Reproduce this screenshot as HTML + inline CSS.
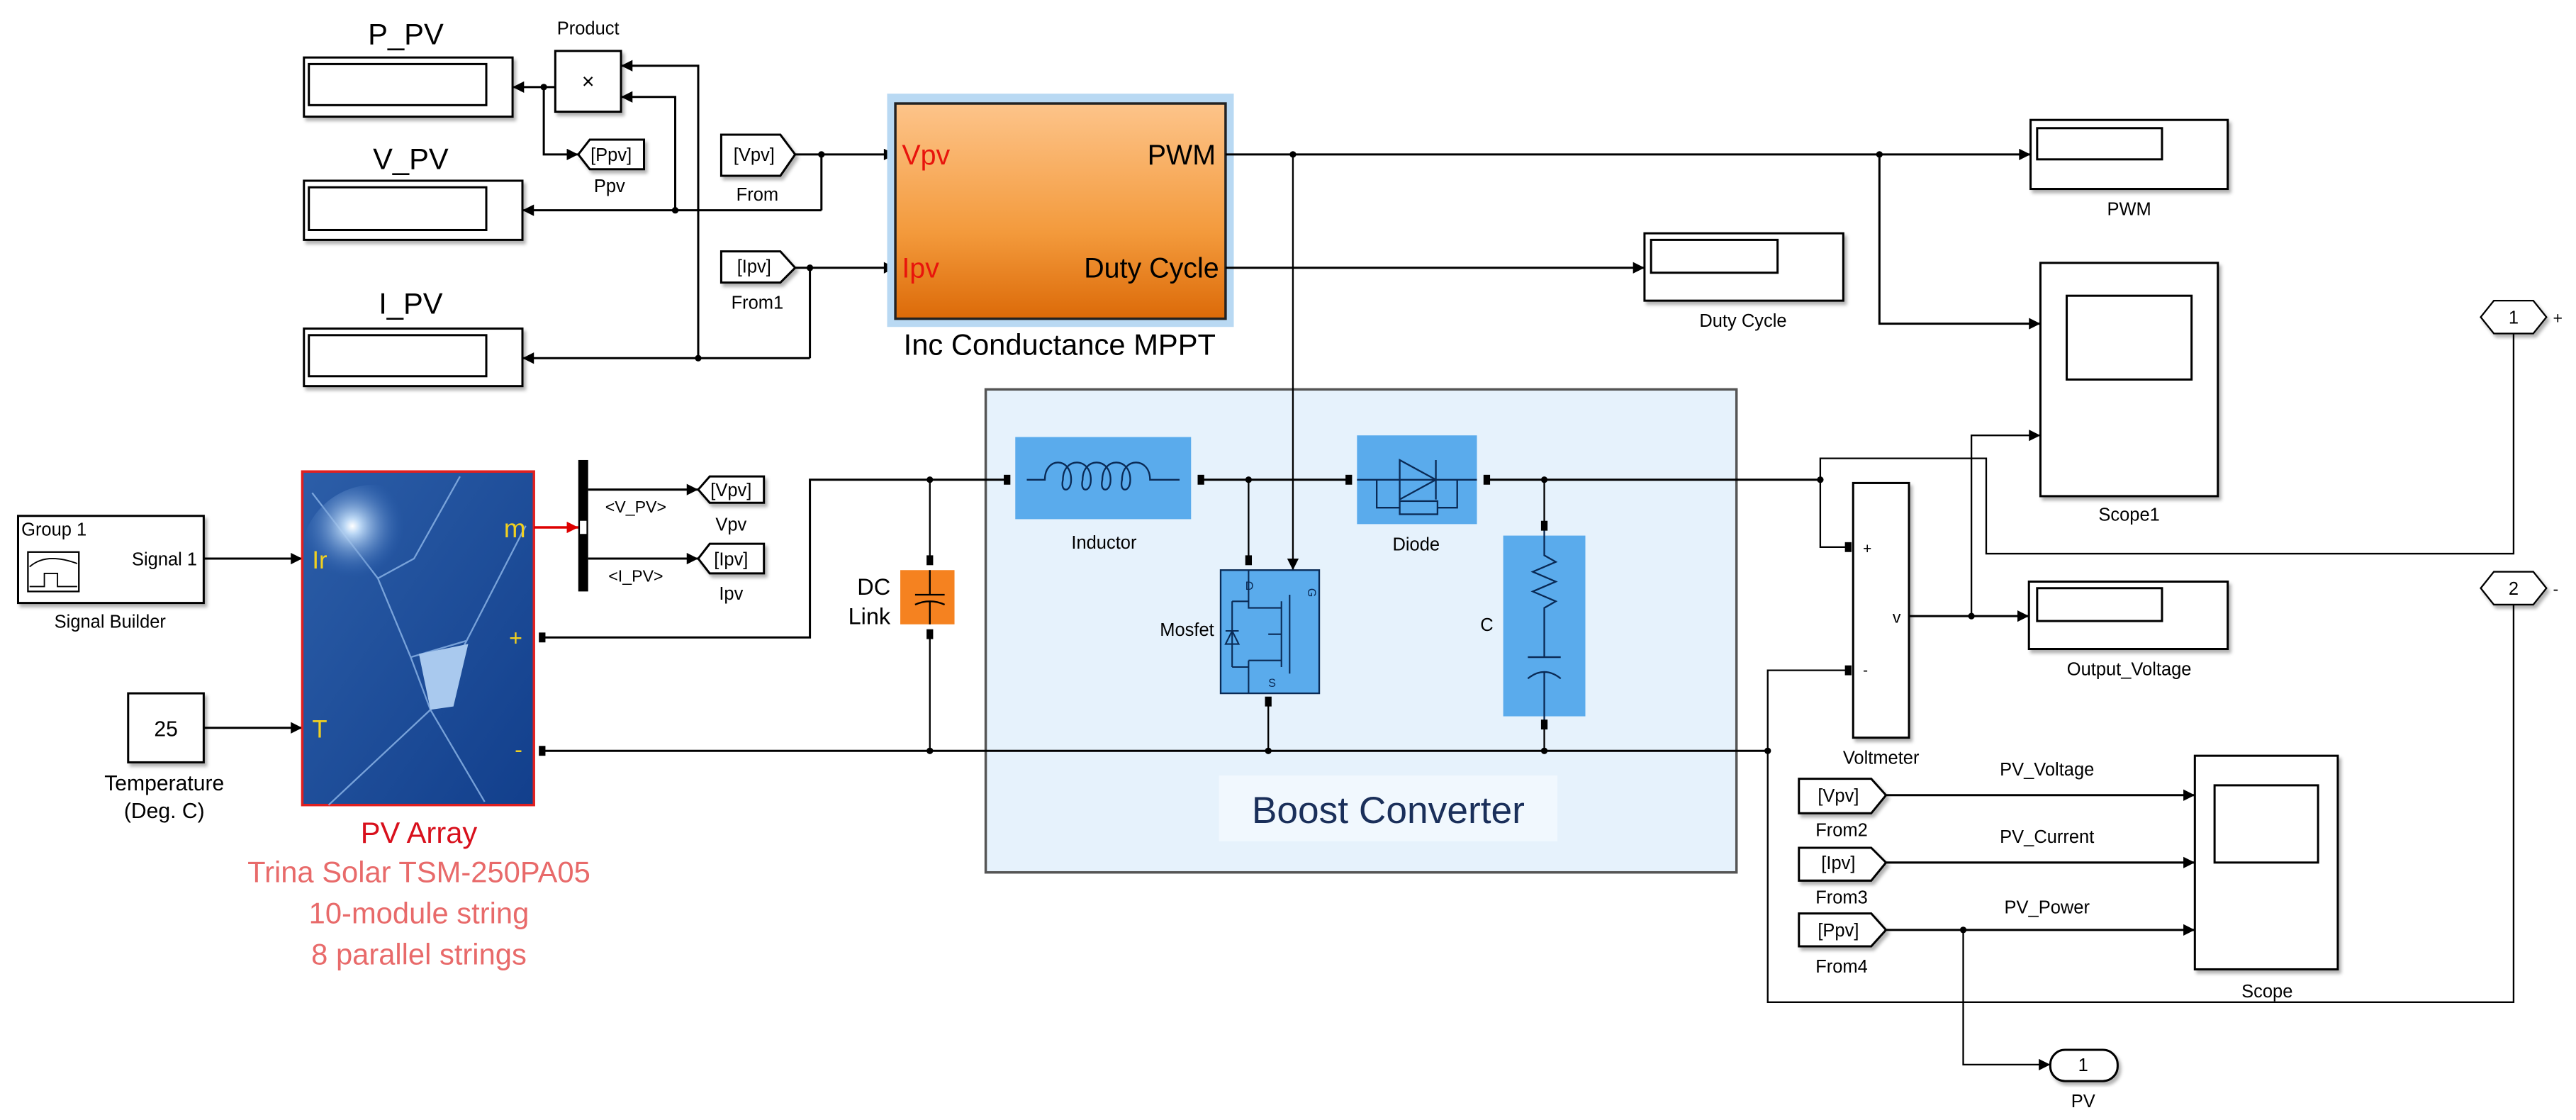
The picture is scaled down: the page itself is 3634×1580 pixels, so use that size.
<!DOCTYPE html>
<html><head><meta charset="utf-8"><style>
html,body{margin:0;padding:0;background:#fff;}
svg{display:block;}
text{font-family:"Liberation Sans",Arial,sans-serif;}
</style></head><body>
<svg width="3634" height="1580" viewBox="0 0 1568 681.7" preserveAspectRatio="none" xmlns="http://www.w3.org/2000/svg">
<defs>
<marker id="a" viewBox="0 0 10 10" refX="10" refY="5" markerWidth="8" markerHeight="7" markerUnits="userSpaceOnUse" orient="auto"><path d="M0,0 L10,5 L0,10 z" fill="#000"/></marker>
<marker id="ar" viewBox="0 0 10 10" refX="10" refY="5" markerWidth="8" markerHeight="7" markerUnits="userSpaceOnUse" orient="auto"><path d="M0,0 L10,5 L0,10 z" fill="#d00"/></marker>
<linearGradient id="og" x1="0" y1="0" x2="0" y2="1"><stop offset="0" stop-color="#fdc48a"/><stop offset="0.6" stop-color="#f39a3c"/><stop offset="1" stop-color="#dc6a08"/></linearGradient>
<radialGradient id="pv1" cx="0.35" cy="0.28" r="0.35"><stop offset="0" stop-color="#ffffff"/><stop offset="0.15" stop-color="#bcd8f5"/><stop offset="1" stop-color="#2e64b4" stop-opacity="0"/></radialGradient>
<linearGradient id="pvb" x1="0" y1="0" x2="1" y2="1"><stop offset="0" stop-color="#2c5ea8"/><stop offset="1" stop-color="#123f8c"/></linearGradient>
<filter id="sh" x="-10%" y="-10%" width="130%" height="130%"><feDropShadow dx="1.5" dy="2" stdDeviation="1" flood-color="#000" flood-opacity="0.3"/></filter>
</defs>
<g fill="none" stroke="#000" stroke-width="1.3">

<!-- Displays left -->
<g filter="url(#sh)" fill="#fff">
<rect x="185" y="35" width="127" height="36"/>
<rect x="185" y="110" width="133" height="36"/>
<rect x="185" y="200" width="133" height="35"/>
<rect x="338" y="31" width="40" height="37"/>
<rect x="1236" y="73" width="120" height="42"/>
<rect x="1001" y="142" width="121" height="41"/>
<rect x="1242" y="160" width="108" height="142"/>
<rect x="1235" y="354" width="121" height="41"/>
<rect x="1336" y="460" width="87" height="130"/>
<rect x="1128" y="294" width="34" height="155"/>
<rect x="11" y="314" width="113" height="53"/>
<rect x="78" y="422" width="46" height="42"/>
</g>
<rect x="188" y="39" width="108" height="25"/>
<rect x="188" y="114" width="108" height="26"/>
<rect x="188" y="204" width="108" height="25"/>
<rect x="1240" y="78" width="76" height="19"/>
<rect x="1005" y="146" width="77" height="20"/>
<rect x="1258" y="180" width="76" height="51"/>
<rect x="1240" y="358" width="76" height="20"/>
<rect x="1348" y="478" width="63" height="47"/>

<!-- Product wiring -->
<polyline points="425,218 425,40 378,40" marker-end="url(#a)"/>
<polyline points="411,128 411,59 378,59" marker-end="url(#a)"/>
<line x1="338" y1="53" x2="312" y2="53" marker-end="url(#a)"/>
<polyline points="331,53 331,94 352,94" marker-end="url(#a)"/>
<line x1="500" y1="128" x2="318" y2="128" marker-end="url(#a)"/>
<line x1="493" y1="218" x2="318" y2="218" marker-end="url(#a)"/>
<line x1="484" y1="94" x2="545" y2="94" marker-end="url(#a)"/>
<line x1="500" y1="94" x2="500" y2="128"/>
<line x1="484" y1="163" x2="545" y2="163" marker-end="url(#a)"/>
<line x1="493" y1="163" x2="493" y2="218"/>

<!-- goto/from tags -->
<g filter="url(#sh)" fill="#fff">
<polygon points="352,94 359,85 392,85 392,103 359,103"/>
<polygon points="439,82 475,82 484,94 475,107 439,107"/>
<polygon points="439,153 475,153 484,163 475,172 439,172"/>
<polygon points="425,298 432,290 465,290 465,306 432,306"/>
<polygon points="425,340 432,331 465,331 465,349 432,349"/>
<polygon points="1095,474 1139,474 1148,484 1139,495 1095,495"/>
<polygon points="1095,516 1139,516 1148,525 1139,536 1095,536"/>
<polygon points="1095,556 1139,556 1148,566 1139,576 1095,576"/>
</g>

<!-- MPPT -->
<rect x="540" y="57" width="211" height="142" fill="#b9d9f3" stroke="none"/>
<rect x="545" y="63" width="201" height="131" fill="url(#og)" stroke="#222" stroke-width="1.5"/>

<!-- PWM / duty lines -->
<line x1="746" y1="94" x2="1236" y2="94" marker-end="url(#a)"/>
<polyline points="1144,94 1144,197 1242,197" marker-end="url(#a)"/>
<line x1="746" y1="163" x2="1001" y2="163" marker-end="url(#a)"/>

<!-- Boost converter box -->
<rect x="600" y="237" width="457" height="294" fill="#e6f2fc" stroke="#555" stroke-width="1.5"/>
<rect x="742" y="472" width="206" height="40" fill="#f1f8fe" stroke="none"/>

<line x1="787" y1="94" x2="787" y2="347" stroke-width="1" marker-end="url(#a)"/>

<!-- Power rails -->
<polyline points="330,388 493,388 493,292 613,292"/>
<line x1="731" y1="292" x2="821" y2="292"/>
<line x1="905" y1="292" x2="1108" y2="292"/>
<line x1="330" y1="457" x2="1076" y2="457"/>
<line x1="566" y1="292" x2="566" y2="341" stroke-width="1"/>
<line x1="566" y1="386" x2="566" y2="457" stroke-width="1"/>
<line x1="760" y1="292" x2="760" y2="341" stroke-width="1"/>
<line x1="772" y1="428" x2="772" y2="457" stroke-width="1"/>
<line x1="940" y1="292" x2="940" y2="321" stroke-width="1"/>
<line x1="940" y1="442" x2="940" y2="457" stroke-width="1"/>
<polyline points="1108,292 1108,333 1125,333" stroke-width="1"/>
<polyline points="1530,203 1530,337 1209,337 1209,279 1108,279 1108,292" stroke-width="1"/>
<polyline points="1162,375 1235,375" marker-end="url(#a)"/>
<polyline points="1200,375 1200,265 1242,265" stroke-width="1" marker-end="url(#a)"/>
<polyline points="1530,368 1530,610 1076,610 1076,408 1125,408" stroke-width="1"/>

<!-- scope inputs -->
<line x1="1148" y1="484" x2="1336" y2="484" marker-end="url(#a)"/>
<line x1="1148" y1="525" x2="1336" y2="525" marker-end="url(#a)"/>
<line x1="1148" y1="566" x2="1336" y2="566" marker-end="url(#a)"/>
<polyline points="1195,566 1195,648 1248,648" stroke-width="1" marker-end="url(#a)"/>
<rect x="1248" y="639" width="41" height="19" rx="9" fill="#fff" filter="url(#sh)"/>

<!-- ports hexagons -->
<polygon points="1510,193 1518,183 1542,183 1550,193 1542,203 1518,203" fill="#fff" stroke-width="1" filter="url(#sh)"/>
<polygon points="1510,358 1518,348 1542,348 1550,358 1542,368 1518,368" fill="#fff" stroke-width="1" filter="url(#sh)"/>

<!-- Signal builder and const inputs -->
<line x1="124" y1="340" x2="184" y2="340" marker-end="url(#a)"/>
<line x1="124" y1="443" x2="184" y2="443" marker-end="url(#a)"/>
<rect x="17" y="336" width="31" height="24" stroke-width="1"/>
<path d="M18,345 Q28,336 47,343 M18,357 L27,357 L27,349 L35,349 L35,357 L47,357" stroke-width="0.8"/>

<!-- PV array -->
<rect x="184" y="287" width="141" height="203" fill="url(#pvb)" stroke="#e02020" stroke-width="1.5"/>
<g stroke="#8fb8ea" stroke-width="1" opacity="0.8">
<path d="M190,300 L230,352 L250,400 L262,432 L200,490"/>
<path d="M280,290 L252,340 L230,352"/>
<path d="M320,320 L284,390 L262,432 L295,488"/>
<path d="M250,400 L284,390"/>
</g>
<polygon points="255,398 285,392 276,430 262,432" fill="#a9c9ee" stroke="none"/>
<circle cx="228" cy="340" r="45" fill="url(#pv1)" stroke="none"/>
<line x1="325" y1="321" x2="352" y2="321" stroke="#d00" stroke-width="1.5" marker-end="url(#ar)"/>
<rect x="352" y="280" width="6" height="80" fill="#000" stroke="none"/>
<line x1="358" y1="298" x2="425" y2="298" marker-end="url(#a)"/>
<line x1="358" y1="340" x2="425" y2="340" marker-end="url(#a)"/>

<!-- DC link -->
<rect x="548" y="347" width="33" height="33" fill="#f58220" stroke="none"/>
<path d="M566,347 L566,362 M557,362 L575,362 M557,368 Q566,364 575,368 M566,366 L566,380" stroke-width="1"/>

<!-- Inductor -->
<rect x="618" y="266" width="107" height="50" fill="#5aabec" stroke="none"/>
<path d="M625,292 L636,292 C636,278 652,278 652,292 C652,300 645,300 647,292 C647,278 664,278 664,292 C664,300 657,300 659,292 C659,278 676,278 676,292 C676,300 669,300 671,292 C671,278 688,278 688,292 C688,300 681,300 683,292 C683,278 700,278 700,292 L718,292" stroke="#0a2a55" stroke-width="1"/>

<!-- Mosfet -->
<rect x="743" y="347" width="60" height="75" fill="#5aabec" stroke="#0a2a55" stroke-width="1"/>
<g stroke="#0a2a55" stroke-width="0.9">
<path d="M760,347 L760,370 L780,370 M760,402 L760,422 M760,402 L780,402 M780,366 L780,406 M785,362 L785,410 M780,386 L772,386"/>
<path d="M750,366 L750,406 M746,384 L754,384 M746,392 L754,392 L750,384 z"/>
<path d="M750,366 L760,366 M750,406 L760,406"/>
</g>
<text x="796" y="358" font-size="7" fill="#0a2a55" stroke="none" transform="rotate(90 796 358)">G</text>
<text x="772" y="418" font-size="7" fill="#0a2a55" stroke="none">S</text>
<text x="758" y="359" font-size="7" fill="#0a2a55" stroke="none">D</text>

<!-- Diode -->
<rect x="826" y="265" width="73" height="54" fill="#5aabec" stroke="none"/>
<g stroke="#0a2a55" stroke-width="1">
<path d="M826,292 L899,292 M852,280 L852,304 L874,292 z M874,280 L874,304"/>
<path d="M838,292 L838,309 L887,309 L887,292"/>
<rect x="852" y="305" width="23" height="8" fill="#5aabec"/>
</g>

<!-- C -->
<rect x="915" y="326" width="50" height="110" fill="#5aabec" stroke="none"/>
<g stroke="#0a2a55" stroke-width="1">
<path d="M940,321 L940,338 L947,342 L933,348 L947,354 L933,360 L947,366 L940,370 L940,400 M930,400 L950,400 M930,413 Q940,405 950,413 M940,409 L940,442"/>
</g>

<!-- ports (black squares) -->
<g fill="#000" stroke="none">
<rect x="328" y="385" width="4" height="6"/>
<rect x="328" y="454" width="4" height="6"/>
<rect x="611" y="289" width="4" height="6"/>
<rect x="729" y="289" width="4" height="6"/>
<rect x="819" y="289" width="4" height="6"/>
<rect x="903" y="289" width="4" height="6"/>
<rect x="564" y="338" width="4" height="6"/>
<rect x="564" y="383" width="4" height="6"/>
<rect x="758" y="338" width="4" height="6"/>
<rect x="770" y="424" width="4" height="6"/>
<rect x="938" y="317" width="4" height="6"/>
<rect x="938" y="438" width="4" height="6"/>
<rect x="1123" y="330" width="4" height="6"/>
<rect x="1123" y="405" width="4" height="6"/>
<rect x="353" y="317" width="4" height="8" fill="#fff"/>
</g>

<!-- junction dots -->
<g fill="#000" stroke="none">
<circle cx="331" cy="53" r="2"/><circle cx="411" cy="128" r="2"/><circle cx="425" cy="218" r="2"/>
<circle cx="500" cy="94" r="2"/><circle cx="493" cy="163" r="2"/>
<circle cx="787" cy="94" r="2"/><circle cx="1144" cy="94" r="2"/>
<circle cx="566" cy="292" r="2"/><circle cx="760" cy="292" r="2"/><circle cx="940" cy="292" r="2"/><circle cx="1108" cy="292" r="2"/>
<circle cx="566" cy="457" r="2"/><circle cx="772" cy="457" r="2"/><circle cx="940" cy="457" r="2"/><circle cx="1076" cy="457" r="2"/>
<circle cx="1200" cy="375" r="2"/><circle cx="1195" cy="566" r="2"/>
</g>
</g>

<!-- Text -->
<g font-family="Liberation Sans, Arial, sans-serif" fill="#000">
<text x="247" y="27" font-size="18" text-anchor="middle">P_PV</text>
<text x="250" y="103" font-size="18" text-anchor="middle">V_PV</text>
<text x="250" y="191" font-size="18" text-anchor="middle">I_PV</text>
<text x="358" y="21" font-size="11" text-anchor="middle">Product</text>
<text x="358" y="54" font-size="13" text-anchor="middle">×</text>
<text x="372" y="98" font-size="11" text-anchor="middle">[Ppv]</text>
<text x="371" y="117" font-size="11" text-anchor="middle">Ppv</text>
<text x="459" y="98" font-size="11" text-anchor="middle">[Vpv]</text>
<text x="461" y="122" font-size="11" text-anchor="middle">From</text>
<text x="459" y="166" font-size="11" text-anchor="middle">[Ipv]</text>
<text x="461" y="188" font-size="11" text-anchor="middle">From1</text>
<text x="549" y="100" font-size="17" fill="#e8140c">Vpv</text>
<text x="549" y="169" font-size="17" fill="#e8140c">Ipv</text>
<text x="740" y="100" font-size="17" text-anchor="end">PWM</text>
<text x="742" y="169" font-size="17" text-anchor="end">Duty Cycle</text>
<text x="645" y="216" font-size="18" text-anchor="middle">Inc Conductance MPPT</text>
<text x="1296" y="131" font-size="11" text-anchor="middle">PWM</text>
<text x="1061" y="199" font-size="11" text-anchor="middle">Duty Cycle</text>
<text x="1296" y="317" font-size="11" text-anchor="middle">Scope1</text>
<text x="1296" y="411" font-size="11" text-anchor="middle">Output_Voltage</text>
<text x="1145" y="465" font-size="11" text-anchor="middle">Voltmeter</text>
<text x="1134" y="337" font-size="9">+</text>
<text x="1134" y="411" font-size="9">-</text>
<text x="1152" y="379" font-size="10">v</text>
<text x="1530" y="197" font-size="11" text-anchor="middle">1</text>
<text x="1554" y="197" font-size="10">+</text>
<text x="1530" y="362" font-size="11" text-anchor="middle">2</text>
<text x="1554" y="362" font-size="10">-</text>
<text x="1119" y="488" font-size="11" text-anchor="middle">[Vpv]</text>
<text x="1121" y="509" font-size="11" text-anchor="middle">From2</text>
<text x="1119" y="529" font-size="11" text-anchor="middle">[Ipv]</text>
<text x="1121" y="550" font-size="11" text-anchor="middle">From3</text>
<text x="1119" y="570" font-size="11" text-anchor="middle">[Ppv]</text>
<text x="1121" y="592" font-size="11" text-anchor="middle">From4</text>
<text x="1246" y="472" font-size="11" text-anchor="middle">PV_Voltage</text>
<text x="1246" y="513" font-size="11" text-anchor="middle">PV_Current</text>
<text x="1246" y="556" font-size="11" text-anchor="middle">PV_Power</text>
<text x="1380" y="607" font-size="11" text-anchor="middle">Scope</text>
<text x="1268" y="652" font-size="11" text-anchor="middle">1</text>
<text x="1268" y="674" font-size="11" text-anchor="middle">PV</text>
<text x="845" y="501" font-size="23" text-anchor="middle" fill="#1a2f5a">Boost Converter</text>
<text x="672" y="334" font-size="11" text-anchor="middle">Inductor</text>
<text x="862" y="335" font-size="11" text-anchor="middle">Diode</text>
<text x="739" y="387" font-size="11" text-anchor="end">Mosfet</text>
<text x="905" y="384" font-size="11" text-anchor="middle">C</text>
<text x="542" y="362" font-size="14" text-anchor="end">DC</text>
<text x="542" y="380" font-size="14" text-anchor="end">Link</text>
<text x="13" y="326" font-size="11">Group 1</text>
<text x="120" y="344" font-size="11" text-anchor="end">Signal 1</text>
<text x="67" y="382" font-size="11" text-anchor="middle">Signal Builder</text>
<text x="101" y="448" font-size="13" text-anchor="middle">25</text>
<text x="100" y="481" font-size="13" text-anchor="middle">Temperature</text>
<text x="100" y="498" font-size="13" text-anchor="middle">(Deg. C)</text>
<text x="190" y="346" font-size="15" fill="#f0d020">Ir</text>
<text x="190" y="449" font-size="15" fill="#f0d020">T</text>
<text x="320" y="327" font-size="16" fill="#f0d020" text-anchor="end">m</text>
<text x="318" y="393" font-size="14" fill="#f0d020" text-anchor="end">+</text>
<text x="318" y="461" font-size="14" fill="#f0d020" text-anchor="end">-</text>
<text x="387" y="312" font-size="10" text-anchor="middle">&lt;V_PV&gt;</text>
<text x="387" y="354" font-size="10" text-anchor="middle">&lt;I_PV&gt;</text>
<text x="445" y="302" font-size="11" text-anchor="middle">[Vpv]</text>
<text x="445" y="323" font-size="11" text-anchor="middle">Vpv</text>
<text x="445" y="344" font-size="11" text-anchor="middle">[Ipv]</text>
<text x="445" y="365" font-size="11" text-anchor="middle">Ipv</text>
<text x="255" y="513" font-size="18" text-anchor="middle" fill="#d8101c">PV Array</text>
<text x="255" y="537" font-size="18" text-anchor="middle" fill="#e86a6a">Trina Solar TSM-250PA05</text>
<text x="255" y="562" font-size="18" text-anchor="middle" fill="#e86a6a">10-module string</text>
<text x="255" y="587" font-size="18" text-anchor="middle" fill="#e86a6a">8 parallel strings</text>
</g>
</svg>
</body></html>
